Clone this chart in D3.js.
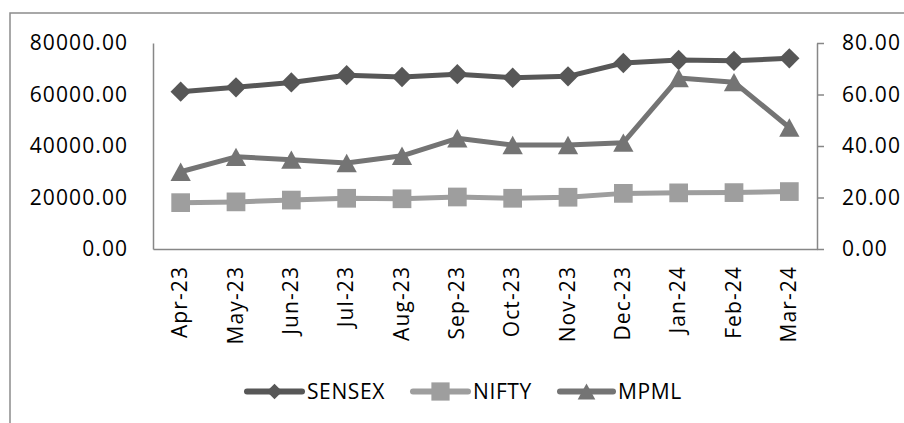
<!DOCTYPE html>
<html><head><meta charset="utf-8">
<script src="https://cdn.jsdelivr.net/npm/d3@7"></script>
<style>
body{margin:0;background:#fff}
svg{display:block}
text{font-family:"Open Sans",sans-serif;fill:#000}
</style>
</head><body>
<svg id="c" width="904" height="423"></svg>
<script>
const categories = ["Apr-23","May-23","Jun-23","Jul-23","Aug-23","Sep-23","Oct-23","Nov-23","Dec-23","Jan-24","Feb-24","Mar-24"];
const sensex = [61100,62800,64700,67500,66800,67900,66500,67050,72230,73400,73100,74050];
const nifty  = [18000,18300,19000,19700,19500,20200,19700,20100,21600,21800,21900,22300];
const mpml   = [30.0,35.8,34.7,33.4,36.2,43.0,40.4,40.4,41.3,66.4,64.8,47.2];
const leftTicks = [0,20000,40000,60000,80000];
const rightTicks = [0,20,40,60,80];
const seriesNames = ["SENSEX","NIFTY","MPML"];

const svg = d3.select("#c");
const L = 153, R = 817, T = 43, B = 249;
const axisColor = "#878787";
const colors = {SENSEX:"#575757", NIFTY:"#9e9e9e", MPML:"#747474"};
const FS = 21, LS = "1.1px";

// outer border (extends past the image)
svg.append("rect").attr("x",10).attr("y",13).attr("width",920).attr("height",440)
  .attr("fill","none").attr("stroke","#8c8c8c").attr("stroke-width",1.5);

const x = d3.scaleBand().domain(categories).range([L,R]).padding(0);
const cx = d => x(d) + x.bandwidth()/2;
const yL = d3.scaleLinear().domain([0,80000]).range([B,T]);
const yR = d3.scaleLinear().domain([0,80]).range([B,T]);

// left axis
const gL = svg.append("g").attr("transform",`translate(${L},0)`)
  .call(d3.axisLeft(yL).tickValues(leftTicks).tickFormat(d3.format(".2f")).tickSize(0).tickPadding(26));
gL.select(".domain").attr("stroke",axisColor).attr("stroke-width",1.5);
gL.selectAll("text").attr("font-size",FS).attr("letter-spacing",LS).attr("dx","1.1px").attr("font-family","Open Sans").attr("fill","#000");

// right axis
const gR = svg.append("g").attr("transform",`translate(${R},0)`)
  .call(d3.axisRight(yR).tickValues(rightTicks).tickFormat(d3.format(".2f")).tickSizeInner(7).tickSizeOuter(0).tickPadding(18));
gR.select(".domain").attr("stroke",axisColor).attr("stroke-width",1.5);
gR.selectAll("line").attr("stroke",axisColor).attr("stroke-width",1.5);
gR.selectAll("text").attr("font-size",FS).attr("letter-spacing",LS).attr("font-family","Open Sans").attr("fill","#000");

// bottom axis
const gB = svg.append("g").attr("transform",`translate(0,${B})`)
  .call(d3.axisBottom(x).tickSize(0).tickSizeOuter(0));
gB.select(".domain").attr("stroke",axisColor).attr("stroke-width",1.5);
gB.selectAll("text")
  .attr("transform","rotate(-90)")
  .attr("x",-17).attr("y",0).attr("dy","0.32em")
  .attr("text-anchor","end")
  .attr("font-size",FS).attr("letter-spacing",LS).attr("font-family","Open Sans").attr("fill","#000");

// marker shapes centered on bounding box
function markerPath(name, s){
  if(name==="SENSEX"){ const h=s*0.52; return `M0,${-h}L${h},0L0,${h}L${-h},0Z`; }
  if(name==="NIFTY"){ const h=s*0.48; return `M${-h},${-h}H${h}V${h}H${-h}Z`; }
  const w=s*0.52, hh=s*0.47; return `M0,${-hh}L${w},${hh}L${-w},${hh}Z`;
}

const data = {SENSEX:{vals:sensex, y:yL}, NIFTY:{vals:nifty, y:yL}, MPML:{vals:mpml, y:yR}};

seriesNames.forEach(name=>{
  const s = data[name];
  const pts = categories.map((c,i)=>[cx(c), s.y(s.vals[i])]);
  svg.append("path").datum(pts)
    .attr("d", d3.line())
    .attr("fill","none").attr("stroke",colors[name]).attr("stroke-width",5)
    .attr("stroke-linejoin","round").attr("stroke-linecap","round");
  svg.append("g").selectAll("path").data(pts).join("path")
    .attr("transform",d=>`translate(${d[0]},${d[1]})`)
    .attr("d", markerPath(name,19.5))
    .attr("fill",colors[name]);
});

// legend
const legendItems = [
  {name:"SENSEX", x0:247, x1:302, tx:307},
  {name:"NIFTY",  x0:413, x1:468, tx:473},
  {name:"MPML",   x0:560, x1:613, tx:618}
];
const ly = 391.5;
const lg = svg.append("g");
legendItems.forEach(it=>{
  lg.append("line").attr("x1",it.x0).attr("x2",it.x1).attr("y1",ly).attr("y2",ly)
    .attr("stroke",colors[it.name]).attr("stroke-width",6).attr("stroke-linecap","round");
  lg.append("path").attr("transform",`translate(${(it.x0+it.x1)/2},${ly})`)
    .attr("d", markerPath(it.name, it.name==="SENSEX"?15:(it.name==="NIFTY"?19:17)))
    .attr("fill",colors[it.name]);
  lg.append("text").attr("x",it.tx).attr("y",ly).attr("dy","0.36em")
    .attr("font-size",21).attr("letter-spacing","0.6px").text(it.name);
});
</script>
</body></html>
